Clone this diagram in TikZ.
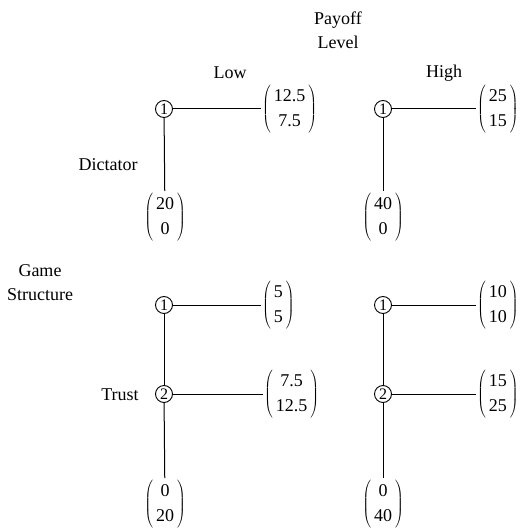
\documentclass[tikz,border=0pt]{standalone}
\usepackage{fontspec}
\setmainfont{Liberation Serif}
\usetikzlibrary{positioning}
\newcommand{\payvec}[2]{$\left(\begin{tabular}{@{\,}c@{\,}}#1\\#2\end{tabular}\right)$}
\tikzset{
  player/.style={draw, circle, inner sep=0pt, minimum size=17pt, line width=0.9pt, font=\fontsize{16}{16}\selectfont},
  pay/.style={inner sep=1pt, font=\fontsize{18}{25}\selectfont},
  lbl/.style={font=\fontsize{18}{24}\selectfont, align=center},
  move/.style={line width=1pt}}

\begin{document}
\begin{tikzpicture}[x=1pt, y=-1pt]
\useasboundingbox (0,0) rectangle (523,532);
% headings
\node[lbl] (level) at (338,30) {Payoff\\Level};
\node[lbl] (low) at (230,73) {Low};
\node[lbl] (high) at (444,73) {High};
\node[lbl] (game) at (40,283) {Game\\Structure};
\node[lbl] (dict) at (108,165) {Dictator};
\node[lbl] (trust) at (120,395) {Trust};
% dictator, low
\node[player] (dl1) at (164,109) {1};
\node[pay, anchor=west] (dlr) at (261,109) {\payvec{12.5}{7.5}};
\node[pay, anchor=north] (dlb) at (165,191) {\payvec{20}{0}};
\draw[move] (dl1) -- (dlr); \draw[move] (dl1) -- (dlb);
% dictator, high
\node[player] (dh1) at (383,109) {1};
\node[pay, anchor=west] (dhr) at (476,109) {\payvec{25}{15}};
\node[pay, anchor=north] (dhb) at (383,191) {\payvec{40}{0}};
\draw[move] (dh1) -- (dhr); \draw[move] (dh1) -- (dhb);
% trust, low
\node[player] (tl1) at (164,305) {1};
\node[player] (tl2) at (164,394) {2};
\node[pay, anchor=west] (tlr1) at (261,305) {\payvec{5}{5}};
\node[pay, anchor=west] (tlr2) at (263,394) {\payvec{7.5}{12.5}};
\node[pay, anchor=north] (tlb) at (165,478) {\payvec{0}{20}};
\draw[move] (tl1) -- (tlr1); \draw[move] (tl1) -- (tl2);
\draw[move] (tl2) -- (tlr2); \draw[move] (tl2) -- (tlb);
% trust, high
\node[player] (th1) at (383,305) {1};
\node[player] (th2) at (383,394) {2};
\node[pay, anchor=west] (thr1) at (476,305) {\payvec{10}{10}};
\node[pay, anchor=west] (thr2) at (476,394) {\payvec{15}{25}};
\node[pay, anchor=north] (thb) at (383,478) {\payvec{0}{40}};
\draw[move] (th1) -- (thr1); \draw[move] (th1) -- (th2);
\draw[move] (th2) -- (thr2); \draw[move] (th2) -- (thb);
\end{tikzpicture}
\end{document}
